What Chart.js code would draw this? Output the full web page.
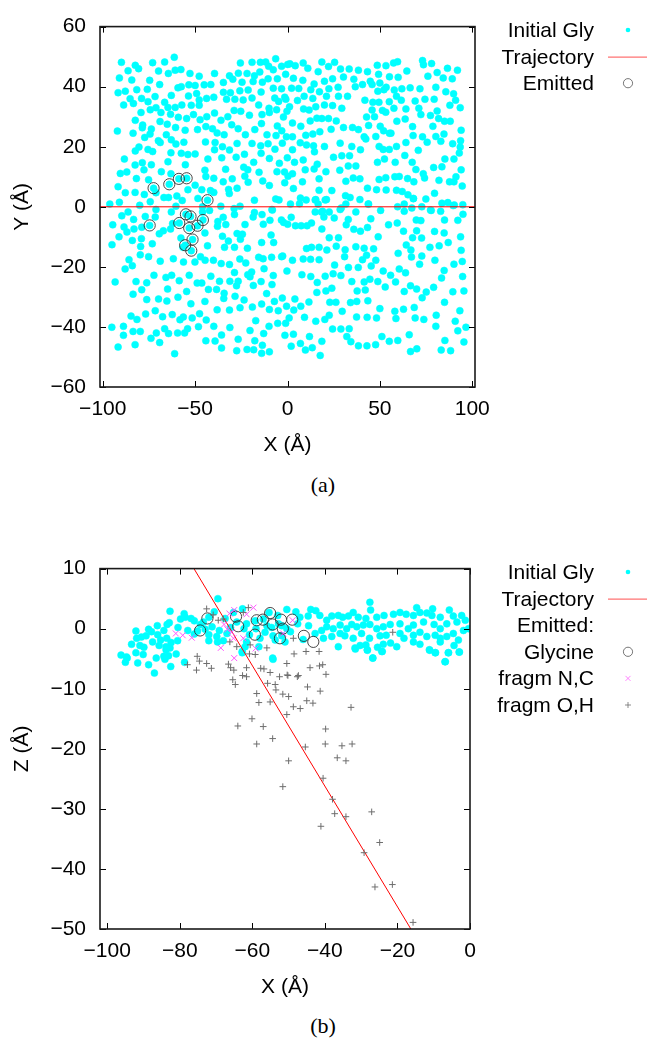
<!DOCTYPE html>
<html>
<head>
<meta charset="utf-8">
<script src="https://cdn.jsdelivr.net/npm/chart.js@4.4.1/dist/chart.umd.min.js"></script>
<style>
  body { margin: 0; background: #fff; width: 647px; height: 1042px; position: relative; overflow: hidden; }
  canvas { position: absolute; left: 0; }
  #chartA { top: 0; }
  #chartB { top: 542px; }
  .caption { position: absolute; left: 0; width: 646px; text-align: center; font: 22px 'Liberation Serif', 'DejaVu Serif', serif; line-height: 24px; color: #000; }
</style>
</head>
<body>
<canvas id="chartA" width="647" height="470"></canvas>
<canvas id="chartB" width="647" height="470"></canvas>
<div class="caption" style="top:473px">(a)</div>
<div class="caption" style="top:1014px">(b)</div>
<script>
const FONT = "'Liberation Sans', Arial, sans-serif";

// ---- panel (a): X/Y view ----
const xTicksA = [-100, -50, 0, 50, 100];
const yTicksA = [-60, -40, -20, 0, 20, 40, 60];
const trajectoryAX = [-101.5, 101.5];
const trajectoryAY = [0, 0];

const initialGlyA = [
  [-61.3,49.8],[-89.9,48.1],[-82.4,47.1],[-80.6,46.0],[-73.0,48.0],[-66.5,48.2],[-86.3,45.3],[-69.8,45.2],[-60.8,45.5],[-57.7,45.7],
  [-64.5,44.4],[-52.8,44.4],[-47.8,43.5],[-39.5,44.4],[-25.5,47.9],[-19.2,48.1],[-14.7,48.1],[-11.8,48.2],[-6.4,49.3],[-10.2,46.8],
  [0.1,47.4],[-7.7,45.6],[-3.2,46.8],[-15.0,44.9],[-21.9,44.4],[-26.6,44.5],[-31.4,43.6],[-17.9,43.6],
  [-91.0,42.9],[-84.3,42.2],[-74.6,42.1],[-10.5,42.6],[-5.5,42.6],[-1.0,44.1],[-69.2,40.7],[-53.4,40.6],[-50.0,40.4],[-45.1,40.6],
  [-41.5,40.7],[-34.7,41.4],[-29.6,42.5],[-24.6,41.5],[-18.6,41.7],[-13.6,41.5],[-91.7,38.0],[-87.8,38.5],[-81.6,39.0],[-75.9,39.1],
  [-59.3,39.6],[-57.5,40.0],[-53.6,36.9],[-49.2,37.7],[-25.8,38.6],[-21.3,38.9],[-14.3,38.2],[-7.7,39.5],[-3.2,39.3],
  [-88.7,33.9],[-85.2,36.0],[-83.4,34.4],[-79.0,36.1],[-75.5,35.0],[-71.7,36.7],[-66.5,34.8],[-64.7,33.1],[-62.9,37.1],[-60.8,33.1],
  [-57.2,33.9],[-52.1,33.8],[-47.8,35.6],[-47.8,33.8],[-43.8,36.1],[-39.9,36.5],[-34.7,38.1],[-30.9,38.0],[-33.0,35.8],[-28.5,35.8],
  [-24.0,35.6],[-19.2,36.2],[-15.6,33.9],[-10.0,32.8],[-6.9,36.2],[-4.8,35.1],[-1.5,36.5],
  [-71.2,33.0],[-79.3,31.4],[-74.3,32.3],[-68.5,31.4],[-63.3,30.8],[-59.1,29.8],[-54.6,29.4],[-50.9,30.7],[-47.3,29.0],[-43.7,30.0],
  [-39.5,31.2],[-36.0,28.8],[-32.3,30.0],[-28.9,32.1],[-25.3,31.8],[-20.6,30.5],[-13.8,30.7],[-9.8,31.4],[-5.9,32.3],[-0.3,31.8],
  [-82.4,28.8],[-78.4,27.2],[-78.6,26.3],[-73.7,25.9],[-83.6,24.5],[-92.1,25.2],[-69.0,28.4],[-65.1,27.5],[-60.6,26.4],[-55.4,25.5],
  [-48.7,25.7],[-44.2,26.7],[-40.6,26.0],[-38.1,24.6],[-34.3,24.0],[-30.2,27.3],[-26.7,26.0],[-22.8,24.0],[-17.7,25.7],[-14.1,27.7],
  [-11.1,24.0],[-6.2,23.7],[-0.6,23.3],[-5.5,26.9],
  [-77.3,23.1],[-74.4,24.2],[-69.9,22.0],[-65.6,24.0],[-68.9,21.4],[-62.9,22.3],[-60.4,20.9],[-56.1,21.5],[-80.4,19.9],[-82.4,18.6],
  [-75.5,19.1],[-73.0,18.4],[-88.3,15.9],[-82.5,13.9],[-78.6,14.7],[-73.7,14.0],[-64.7,15.0],[-63.1,18.0],[-57.5,17.8],[-53.9,17.4],
  [-50.0,17.6],[-55.3,14.0],[-44.4,21.6],[-39.2,21.4],[-39.5,19.0],[-35.2,20.0],[-31.4,18.9],[-27.3,21.1],[-19.2,21.1],[-14.5,20.3],
  [-10.5,21.0],[-6.8,19.2],[-2.8,21.2],[-43.1,15.9],[-35.6,16.3],[-27.8,16.5],[-23.3,17.5],[-18.3,14.8],[-14.3,17.8],[-9.8,16.1],
  [-4.4,14.5],[-0.1,16.3],
  [-90.5,11.1],[-87.0,11.6],[-81.8,9.4],[-77.7,12.3],[-75.2,9.0],[-68.3,11.7],[-63.1,11.0],[-91.7,6.7],[-87.8,4.7],[-82.5,4.8],
  [-77.5,4.1],[-71.2,4.7],[-66.9,3.1],[-64.4,3.1],[-59.9,3.6],[-57.0,2.1],[-53.9,5.7],[-50.0,7.2],[-48.5,2.8],[-46.4,5.7],
  [-44.7,12.2],[-44.2,10.1],[-39.9,9.5],[-41.7,5.4],[-39.9,4.8],[-34.8,8.3],[-33.5,12.5],[-31.9,5.8],[-31.5,4.4],[-29.9,9.3],
  [-27.3,6.2],[-23.7,13.2],[-23.1,10.2],[-21.5,12.3],[-21.3,8.2],[-17.9,2.2],[-15.4,11.5],[-13.4,8.6],[-9.8,7.1],[-5.7,11.7],
  [-6.4,2.6],[-4.6,2.3],[-1.5,8.0],[0.3,10.2],[-96.2,0.9],[-91.0,1.5],[-80.0,0.5],[-74.3,1.7],[-60.4,0.2],[-46.0,0.0],
  [-36.1,0.2],[-25.7,0.2],[-8.4,-0.9],
  [-72.5,6.2],[-64.0,7.5],[-58.8,9.3],[-54.6,9.5],[-43.3,2.2],[-74.6,-6.2],[-55.0,-2.5],[-52.5,-3.2],[-58.6,-5.4],[-53.2,-7.1],
  [-48.7,-6.3],[-45.8,-4.4],[-51.4,-10.9],[-55.4,-12.8],[-52.1,-14.6],
  [1.3,47.6],[4.2,47.0],[8.5,47.9],[11.0,46.1],[18.6,48.2],[22.2,46.7],[25.5,48.1],[16.6,45.0],[28.7,45.9],[33.4,45.9],
  [38.4,45.5],[43.3,45.0],[48.6,47.1],[53.3,47.0],[57.4,47.9],[59.6,48.3],[49.3,44.1],[64.6,45.2],[73.1,48.7],[73.6,47.3],
  [78.0,47.7],[81.0,44.7],[76.0,43.5],[86.6,46.1],[84.3,42.9],[89.2,42.6],[92.0,45.5],
  [3.2,42.8],[8.3,42.1],[14.4,40.9],[20.0,41.8],[24.4,42.6],[30.3,43.2],[35.9,42.5],[40.6,40.7],[44.8,41.8],[45.8,40.7],
  [50.0,41.2],[55.2,43.3],[59.9,43.1],[53.4,39.8],[80.3,39.8],
  [2.2,39.5],[6.1,39.4],[12.6,39.0],[17.3,38.3],[22.4,39.3],[27.4,39.8],[36.7,40.0],[48.9,38.5],[52.2,39.0],[57.8,38.9],
  [61.9,39.3],[66.4,39.6],[71.7,39.3],[85.7,38.3],[89.9,37.6],[-0.9,35.8],[5.4,35.4],[9.0,36.8],[13.7,36.1],[21.1,36.8],
  [27.6,36.8],[32.5,36.8],[41.9,35.5],[46.2,34.8],[49.5,34.8],[55.1,35.0],[59.0,36.8],[61.6,35.5],[69.1,35.2],[74.4,35.8],
  [79.4,35.8],[87.9,33.8],[1.1,33.3],[8.7,32.6],[11.7,32.2],[15.3,33.3],[20.0,33.9],[24.4,33.7],[29.4,32.8],[45.8,32.2],
  [51.4,32.1],[57.6,32.8],[64.1,32.6],[71.1,32.8],[81.0,31.9],[93.5,33.0],[91.0,35.5],
  [-2.2,29.9],[2.7,27.9],[7.2,26.8],[12.3,28.6],[15.9,29.5],[18.6,29.4],[22.2,29.4],[26.4,28.6],[30.3,26.4],[35.2,26.4],
  [38.4,25.7],[42.8,29.9],[43.9,27.1],[47.1,30.0],[50.2,26.8],[53.2,31.5],[55.2,24.5],[59.2,28.5],[63.7,29.2],[67.7,26.7],
  [72.2,30.7],[77.4,30.4],[81.8,29.4],[85.0,28.5],[88.1,28.5],[84.7,24.2],[78.7,26.8],[73.1,23.3],[68.0,23.7],[-3.1,25.3],
  [2.7,23.3],[9.9,23.8],[13.7,24.2],[17.5,25.0],[23.6,25.8],[41.5,23.3],[47.8,23.4],[52.0,25.3],[56.0,24.5],[94.0,25.5],
  [6.9,21.3],[10.3,20.6],[14.1,20.3],[20.0,20.1],[28.5,21.2],[34.8,20.1],[39.5,19.0],[42.4,22.6],[49.6,20.1],[51.8,19.1],
  [55.1,19.1],[59.0,20.1],[64.1,21.4],[70.8,18.8],[75.6,21.5],[80.3,23.4],[83.0,21.8],[89.4,21.0],[93.7,22.0],[93.5,19.9],
  [93.0,17.9],[2.7,19.0],[3.8,14.8],[8.5,15.6],[14.6,18.3],[16.1,14.2],[24.9,16.5],[29.4,17.0],[33.6,17.0],[37.0,13.6],
  [32.9,13.6],[48.7,14.8],[52.5,15.9],[58.3,14.8],[63.5,17.1],[67.5,14.8],[73.5,11.0],[79.1,13.1],[83.6,13.3],[85.2,15.9],
  [90.1,15.9],[94.0,12.3],
  [-1.6,11.6],[2.7,11.0],[9.6,12.3],[14.4,12.6],[20.8,11.7],[28.3,12.2],[3.2,6.1],[8.1,8.3],[17.1,9.3],[24.0,5.4],
  [17.1,5.5],[31.6,8.5],[35.6,9.6],[39.2,9.3],[43.3,6.2],[48.2,5.7],[49.6,9.1],[53.2,9.7],[58.1,10.0],[60.5,10.1],
  [65.0,9.4],[68.4,8.3],[69.5,12.4],[74.2,9.6],[82.0,8.8],[87.7,8.3],[90.1,8.3],[91.2,10.0],[94.6,6.9],[7.0,2.9],
  [10.1,2.3],[15.3,2.4],[21.1,2.4],[31.4,3.7],[33.9,3.1],[39.2,2.4],[53.4,5.6],[59.0,5.5],[62.1,5.1],[65.2,4.0],
  [68.1,2.7],[74.9,2.6],[79.6,4.5],[83.6,1.2],[86.8,1.4],[94.9,0.7],[89.7,0.4],[1.6,0.9],[16.6,0.9],[29.1,-0.4],
  [37.0,-1.7],[43.9,0.9],[59.6,0.0],[63.2,-1.5],[67.3,-0.4],[72.7,0.0],[77.8,-1.2],[82.9,-1.5],[19.0,-1.5],[22.6,-1.7],
  [-94.6,-6.0],[-89.7,-3.0],[-88.5,-6.7],[-86.3,-1.7],[-91.2,-10.0],[-86.9,-8.4],[-84.0,-11.2],[-83.1,-7.4],[-83.3,-4.2],[-78.9,-6.8],
  [-79.1,-10.6],[-79.5,-13.2],[-77.0,-3.2],[-73.2,-12.3],[-71.2,-0.9],[-71.6,-3.4],[-69.4,-9.0],[-67.2,-8.0],[-63.3,-7.4],[-62.2,-5.6],
  [-57.7,-10.4],[-56.6,-13.5],[-62.9,-1.7],[-46.0,-1.7],[-43.3,-13.0],[-44.7,-8.7],[-42.2,-1.2],[-37.7,-4.9],[-37.9,-6.5],[-34.8,-3.5],
  [-33.4,-5.9],[-28.9,-0.6],[-28.7,-2.6],[-27.3,-8.9],[-24.4,-9.1],[-23.0,-5.9],[-18.6,-3.4],[-17.9,-1.9],[-13.8,-2.6],[-13.1,-5.8],
  [-8.9,-9.4],[-9.5,-4.5],[-8.2,-1.1],[-3.3,-4.4],[-2.1,-5.2],[0.1,-5.8],[-35.2,-9.8],[-32.0,-11.4],[-34.1,-13.5],[-28.7,-13.5],
  [-25.5,-10.8],[-21.7,-13.8],[-14.0,-11.9],[-7.5,-11.9],[-2.6,-16.4],
  [-85.8,-17.6],[-84.0,-19.6],[-87.9,-20.7],[-79.7,-16.0],[-75.2,-16.6],[-68.9,-18.1],[-61.8,-17.3],[-56.3,-18.4],[-50.1,-18.4],[-47.1,-16.6],
  [-44.6,-17.8],[-40.1,-17.8],[-35.9,-18.9],[-31.4,-19.2],[-25.8,-17.4],[-22.6,-18.7],[-19.4,-21.7],[-15.6,-16.8],[-13.2,-17.3],[-8.6,-16.8],
  [-3.2,-16.6],[-0.3,-21.4],[-7.7,-22.9],[-12.7,-20.6],[-21.5,-22.6],[-28.7,-21.9],[-41.5,-23.1],[-53.2,-22.8],[-62.7,-22.8],[-65.8,-23.5],
  [-72.3,-22.8],[-82.0,-24.9],[-76.2,-25.3],[-58.6,-24.6],[-48.9,-25.4],[-46.4,-25.4],[-36.8,-24.8],[-31.2,-24.8],[-26.7,-24.8],[-20.3,-23.3],
  [-14.3,-24.9],[-8.4,-25.9],[-78.9,-27.6],[-83.6,-29.1],[-64.9,-27.4],[-54.6,-28.2],[-42.8,-27.5],[-38.4,-27.5],[-34.3,-28.8],[-27.6,-26.3],
  [-18.5,-26.2],[-11.3,-28.9],[-95.0,-12.6],[-93.3,-25.0],
  [-76.2,-30.9],[-69.8,-30.7],[-65.3,-31.4],[-59.3,-30.1],[-52.3,-32.3],[-44.7,-31.5],[-34.5,-30.5],[-28.4,-29.8],[-23.5,-31.0],[-19.0,-33.4],
  [-14.0,-32.4],[-7.1,-31.5],[-2.8,-30.4],[-0.5,-33.1],[-84.7,-36.4],[-81.5,-37.5],[-76.8,-35.7],[-71.6,-34.6],[-67.6,-36.6],[-62.4,-35.9],
  [-58.2,-37.6],[-56.4,-36.7],[-51.6,-37.0],[-47.6,-35.6],[-44.0,-37.7],[-38.1,-34.3],[-31.4,-34.4],[-25.7,-33.6],[-17.2,-37.9],[-9.8,-34.2],
  [-5.0,-34.6],[-1.0,-38.8],
  [-95.1,-40.1],[-88.8,-39.8],[-88.8,-42.8],[-91.7,-46.7],[-83.6,-41.5],[-79.7,-41.5],[-82.5,-45.9],[-73.9,-43.8],[-71.0,-42.0],[-69.2,-45.2],
  [-66.5,-40.6],[-64.4,-42.2],[-61.1,-48.9],[-59.5,-42.0],[-55.7,-42.0],[-54.1,-40.6],[-48.2,-39.9],[-44.2,-44.6],[-39.9,-39.8],[-39.2,-44.7],
  [-35.7,-47.0],[-35.7,-42.7],[-31.2,-40.2],[-27.5,-47.9],[-26.7,-44.1],[-20.3,-41.2],[-17.7,-44.6],[-21.9,-47.5],[-18.3,-47.6],[-14.0,-48.8],
  [-13.6,-46.1],[-12.9,-42.2],[-9.8,-48.3],[-10.0,-39.8],[-5.3,-38.8],[-1.4,-42.8],
  [6.5,1.0],[15.0,2.3],[20.4,2.3],[31.6,0.9],[43.7,0.9],[63.2,0.9],[68.2,2.8],[90.3,0.6],[2.0,-3.5],[4.3,-6.3],
  [7.4,-6.3],[10.6,-6.3],[13.0,-5.4],[15.0,-1.7],[18.4,-1.7],[19.7,-3.4],[18.6,-7.4],[25.3,-3.7],[28.5,-0.9],[32.9,-4.2],
  [31.8,-6.0],[35.9,-7.5],[39.5,-8.1],[43.3,-6.9],[45.1,-4.0],[50.4,-1.2],[49.1,-10.0],[54.7,-6.0],[59.4,-5.4],[62.8,-8.1],
  [64.3,-12.7],[67.7,-10.3],[69.9,-8.0],[72.6,-10.4],[69.7,-4.4],[72.2,-4.6],[77.4,-1.1],[79.6,-8.2],[84.8,-8.7],[85.0,-4.4],
  [92.2,-4.5],[93.7,-10.0],[22.6,-10.3],[27.6,-10.3],[10.3,-13.9],[13.0,-13.5],[17.1,-13.5],[21.3,-14.4],[26.4,-13.1],[31.2,-14.3],
  [37.0,-13.3],[41.5,-13.8],[46.6,-14.0],[59.9,-15.5],[66.8,-14.4],[77.1,-13.5],[82.1,-13.0],[87.0,-11.9],[95.0,-2.5],[94.0,-14.5],
  [2.7,-17.8],[8.5,-17.4],[12.5,-17.5],[17.1,-17.6],[25.5,-19.4],[30.9,-16.6],[33.0,-20.2],[38.3,-20.2],[40.6,-17.6],[42.8,-16.1],
  [45.3,-19.7],[47.8,-17.8],[51.8,-21.4],[55.8,-22.8],[60.5,-20.7],[63.9,-22.0],[67.1,-16.7],[71.5,-19.1],[72.7,-16.4],[79.8,-17.8],
  [84.8,-21.2],[90.1,-19.1],[94.6,-18.2],[7.8,-22.6],[12.6,-23.2],[16.1,-25.2],[20.4,-23.1],[24.7,-22.3],[24.0,-27.1],[28.9,-22.9],
  [34.8,-24.9],[37.7,-28.0],[42.1,-27.7],[41.5,-25.0],[44.6,-24.1],[48.9,-24.9],[52.9,-26.7],[58.5,-25.0],[63.2,-28.2],[66.6,-26.3],
  [69.9,-27.4],[72.9,-30.3],[75.1,-28.4],[79.1,-26.8],[83.4,-23.7],[89.5,-28.3],[94.8,-23.2],[95.5,-28.0],
  [4.0,-30.7],[11.6,-31.7],[15.9,-28.5],[20.8,-28.0],[22.9,-31.8],[26.2,-31.8],[34.1,-31.9],[37.5,-31.5],[43.5,-31.3],[50.0,-33.9],
  [58.1,-34.8],[62.8,-34.1],[68.6,-33.5],[80.5,-36.1],[85.0,-31.8],[93.3,-34.6],[90.8,-38.1],[0.9,-37.0],[3.4,-34.4],[7.2,-33.1],
  [9.2,-36.8],[15.3,-38.1],[20.2,-37.5],[22.6,-36.1],[29.6,-34.8],[37.4,-36.7],[43.1,-36.8],[48.2,-37.0],[58.7,-37.2],[69.1,-37.0],
  [73.8,-37.5],
  [3.2,-42.4],[2.0,-46.4],[7.0,-45.5],[9.7,-47.7],[11.9,-43.2],[13.4,-46.9],[17.7,-49.5],[18.6,-44.8],[24.4,-40.7],[28.9,-40.7],
  [33.4,-40.6],[32.1,-43.2],[34.3,-44.9],[38.4,-46.3],[43.0,-46.3],[47.7,-45.9],[51.1,-43.2],[55.1,-44.8],[59.7,-44.5],[65.9,-42.6],
  [66.6,-48.2],[70.0,-47.3],[80.3,-39.8],[85.2,-44.5],[83.2,-47.7],[88.3,-47.9],[92.2,-41.3],[96.6,-40.1],[95.5,-45.0]
];

const emittedA = [
  [-72.5,6.2],[-64.0,7.5],[-58.8,9.3],[-54.6,9.5],[-43.3,2.2],[-74.6,-6.2],[-55.0,-2.5],[-52.5,-3.2],
  [-58.6,-5.4],[-53.2,-7.1],[-48.7,-6.3],[-45.8,-4.4],[-51.4,-10.9],[-55.4,-12.8],[-52.1,-14.6]
];

// ---- panel (b): X/Z view ----
const xTicksB = [-100, -80, -60, -40, -20, 0];
const zTicksB = [-50, -40, -30, -20, -10, 0, 10];
const trajectoryBX = [-76.1, -16.3];
const trajectoryBZ = [10, -50];

const initialGlyB = [
  [-69.5,5.0],[-82.7,2.9],[-78.8,2.5],[-78.5,1.9],[-79.8,1.6],[-76.9,1.7],[-76.0,1.3],[-82.9,1.0],[-83.5,0.7],[-86.2,0.5],
  [-88.6,-0.1],[-87.8,-0.5],[-86.1,-1.0],[-84.4,-0.3],[-92.1,-0.4],[-91.9,-1.6],[-90.6,-1.4],[-89.3,-1.2],[-87.5,-2.2],[-85.3,-1.9],
  [-83.6,-1.6],[-82.4,-2.3],[-80.6,-2.0],[-91.0,-2.8],[-89.9,-3.1],[-85.7,-2.8],[-83.8,-3.0],[-82.7,-3.2],[-92.1,-4.0],[-90.1,-4.3],
  [-84.4,-4.6],[-96.2,-4.4],[-94.7,-4.7],[-95.0,-5.6],[-91.6,-5.7],[-88.6,-6.0],[-82.5,-6.3],[-87.0,-7.4],[-74.3,0.7],[-73.0,-0.1],
  [-75.1,-0.4],[-72.0,-1.0],[-72.0,-2.0],[-69.6,-2.2],[-67.0,-0.8],[-62.8,-3.8],[-62.0,-3.0],[-58.2,-3.0],[-54.4,-4.9],[-54.3,-1.2],
  [-51.9,-1.2],[-51.0,-2.2],[-54.7,0.2],[-51.9,0.5],[-50.5,3.2],[-55.4,2.7],[-57.0,1.6],[-59.2,1.3],[-59.0,0.0],[-61.6,0.8],
  [-62.7,3.3],[-65.2,2.7],[-67.5,1.7],[-72.0,1.9],[-73.5,1.1],[-71.1,0.3],[-69.1,-0.3],[-69.8,-1.3],[-64.3,1.1],[-62.3,0.0],
  [-60.8,-1.0],[-61.6,-2.2],[-57.9,-1.6],[-56.5,-0.6],[-52.8,0.8],[-50.5,0.0],[-53.7,-1.9],
  [-56.0,0.5],[-53.0,2.2],[-49.5,-0.5],[-47.5,0.8],[-46.0,-1.8],[-44.5,0.5],[-48.0,2.8],[-76.0,-0.9],[-70.5,2.8],[-66.0,0.2],
  [-68.0,-2.0],[-80.5,0.2],[-77.8,-0.3],[-81.0,-4.2],[-86.5,-4.9],[-93.3,-2.6],
  [-94.5,-4.9],[-84.1,-5.1],[-83.1,-4.5],[-83.8,-3.5],[-78.7,-5.6],[-62.8,-4.0],[-54.3,-5.1],[-31.6,-3.4],[-28.3,-3.6],[-26.8,-4.9],
  [-24.2,-3.8],[-11.1,-3.6],[-9.5,-4.0],[-6.8,-5.5],[-6.0,-4.0],[-3.0,-3.9],
  [-27.6,4.4],[-27.4,3.1],[-43.9,3.2],[-42.5,3.0],[-46.9,1.9],[-44.6,2.1],[-41.4,2.2],[-39.5,1.4],[-38.1,2.1],[-36.3,2.2],
  [-35.1,1.9],[-33.5,2.1],[-32.2,2.7],[-30.8,1.9],[-28.7,1.7],[-25.7,1.9],[-23.7,2.2],[-21.1,2.4],[-19.3,2.7],[-17.6,2.4],
  [-15.6,2.2],[-14.7,3.5],[-13.8,2.7],[-11.9,2.6],[-10.3,3.3],[-10.5,2.2],[-8.2,1.9],[-5.7,3.1],[-4.6,2.1],[-2.3,2.2],
  [-1.3,1.4],[-0.4,0.0],[-1.8,-0.3],[-3.6,1.1],[-6.4,0.8],[-8.2,0.0],[-9.9,0.7],[-12.8,1.1],[-15.6,0.6],[-17.0,0.0],
  [-19.3,0.8],[-22.0,0.7],[-23.9,0.3],[-25.7,0.0],[-27.6,0.7],[-29.4,0.6],[-31.2,0.3],[-32.6,0.7],[-34.0,0.0],[-35.8,0.6],
  [-37.7,0.0],[-39.5,0.3],[-40.9,-0.3],[-42.7,-0.8],[-40.4,-1.6],[-38.1,-1.3],[-35.8,-0.8],[-34.5,-1.2],[-32.2,-1.6],[-29.9,-0.8],
  [-27.7,-1.6],[-24.8,-1.2],[-23.1,-1.1],[-19.3,-0.8],[-18.2,-1.6],[-15.6,-1.1],[-13.8,-0.6],[-11.9,-1.3],[-9.6,-1.1],[-8.2,-1.6],
  [-6.4,-1.3],[-4.6,-0.8],[-3.2,-1.9],[-31.7,-3.2],[-30.3,-2.8],[-28.7,-2.7],[-28.3,-3.5],[-26.8,-4.9],[-25.5,-3.1],[-24.3,-3.8],
  [-23.9,-2.6],[-21.9,-2.4],[-20.2,-3.0],[-15.6,-2.2],[-13.8,-2.6],[-11.2,-3.5],[-9.6,-4.0],[-8.2,-2.2],[-6.9,-5.5],[-5.9,-4.0],
  [-4.4,-2.8],[-2.9,-3.9],[-36.3,-3.0]
];

const glycineB = [
  [-74.4,-0.3],[-72.4,1.7],[-64.5,2.0],[-63.9,0.4],[-59.3,-1.0],[-58.8,1.4],[-57.1,1.5],[-55.1,2.6],
  [-54.4,0.7],[-52.1,1.5],[-51.6,0.0],[-52.4,-1.6],[-49.0,1.5],[-45.8,-1.2],[-43.2,-2.2]
];

const fragNCB = [
  [-81.1,-0.8],[-79.2,-1.1],[-76.7,-1.5],[-67.8,0.7],[-66.9,-0.1],[-65.7,-0.6],[-65.2,-1.6],[-68.7,-3.2],
  [-65.0,-4.9],[-65.0,3.1],[-59.7,3.5],[-61.6,2.4],[-66.3,2.5],[-62.5,-1.6],[-48.9,1.4],[-51.5,-0.8],[-59.1,-3.3]
];

const fragOHB = [
  [-72.6,3.3],[-70.8,2.3],[-69.4,1.4],[-68.0,1.6],[-62.5,2.7],[-61.1,3.5],[-56.0,-3.2],[-64.3,-3.0],[-66.2,-2.2],[-60.6,-2.7],
  [-48.7,-1.6],[-21.3,-0.6],[-41.6,-3.8],[-47.3,-7.8],[-50.4,-7.7],
  [-77.9,-6.0],[-75.2,-4.6],[-74.6,-5.4],[-75.4,-6.9],[-72.6,-5.8],[-71.3,-6.6],[-66.6,-5.9],[-66.0,-6.5],[-65.1,-6.9],[-62.7,-7.8],
  [-61.6,-8.0],[-65.4,-8.5],[-64.7,-9.3],[-61.6,-6.5],[-60.8,-4.2],[-59.2,-4.3],[-57.7,-6.6],[-56.8,-6.7],[-55.8,-9.1],[-55.1,-7.3],
  [-53.7,-9.3],[-53.5,-10.2],[-52.5,-8.0],[-50.2,-7.8],[-50.5,-5.8],[-48.5,-4.2],[-47.6,-8.0],[-44.1,-6.5],[-45.2,-3.8],[-41.5,-6.2],
  [-40.6,-6.0],[-39.7,-7.6],[-44.8,-9.7],[-41.3,-10.4],[-58.8,-10.8],[-58.2,-12.3],[-55.1,-12.2],[-51.6,-10.9],[-50.0,-11.3],[-48.7,-13.0],
  [-46.8,-13.3],[-45.0,-12.0],[-43.3,-12.4],[-32.8,-13.1],[-50.5,-14.3],[-60.1,-15.0],[-64.0,-16.2],[-57.0,-16.3],[-54.4,-18.3],[-58.8,-19.2],
  [-39.8,-16.7],[-39.9,-19.2],[-45.4,-19.7],[-35.3,-19.5],[-32.5,-19.2],[-36.6,-21.5],[-34.2,-22.0],[-50.0,-22.0],[-40.5,-24.9],[-51.6,-26.3],
  [-37.9,-28.4],[-37.3,-30.8],[-34.2,-31.3],[-41.1,-32.9],[-27.1,-30.5],[-29.2,-37.3],[-24.9,-35.6],[-26.2,-43.0],[-21.4,-42.6],[-15.7,-48.9]
];

// ---- helpers ----
const toXY = arr => arr.map(p => ({x: p[0], y: p[1]}));
const zipXY = (xs, ys) => xs.map((x, i) => ({x: x, y: ys[i]}));
const fmt = v => v < 0 ? '\u2212' + Math.abs(v) : String(v);

function makeAxis(min, max, tickVals, title, horizontal) {
  return {
    type: 'linear',
    position: horizontal ? 'bottom' : 'left',
    min: min,
    max: max,
    grid: { display: false, drawTicks: false },
    border: { display: false },
    afterBuildTicks: s => { s.ticks = tickVals.map(v => ({ value: v })); },
    afterFit: s => { if (horizontal) s.height = 83; else s.width = 100; },
    ticks: {
      autoSkip: false,
      maxRotation: 0,
      padding: horizontal ? 10 : 14,
      color: '#000',
      font: { family: FONT, size: 21 },
      callback: v => fmt(v)
    },
    title: {
      display: true,
      text: title,
      color: '#000',
      font: { family: FONT, size: 21 },
      padding: horizontal ? { top: 0, bottom: 12 } : { top: 10, bottom: 0 }
    }
  };
}

// gnuplot-like frame with inward ticks on all four sides
const framePlugin = {
  id: 'frame',
  afterDatasetsDraw(chart) {
    const { ctx, chartArea: a, scales } = chart;
    ctx.save();
    ctx.strokeStyle = '#000';
    ctx.lineWidth = 1;
    ctx.beginPath();
    scales.x.ticks.forEach(t => {
      const p = Math.round(scales.x.getPixelForValue(t.value)) + 0.5;
      ctx.moveTo(p, a.bottom); ctx.lineTo(p, a.bottom - 6);
      ctx.moveTo(p, a.top); ctx.lineTo(p, a.top + 6);
    });
    scales.y.ticks.forEach(t => {
      const p = Math.round(scales.y.getPixelForValue(t.value)) + 0.5;
      ctx.moveTo(a.left, p); ctx.lineTo(a.left + 6, p);
      ctx.moveTo(a.right, p); ctx.lineTo(a.right - 6, p);
    });
    ctx.stroke();
    ctx.strokeStyle = '#1a1a1a';
    ctx.lineWidth = 1.6;
    ctx.strokeRect(a.left, a.top, a.right - a.left, a.bottom - a.top);
    ctx.restore();
  }
};

// key drawn to the right of the plot, text right-aligned like gnuplot
function drawKeySymbol(ctx, kind, x, y) {
  ctx.beginPath();
  if (kind === 'dot') {
    ctx.fillStyle = '#00ffff';
    ctx.arc(x, y, 2.3, 0, Math.PI * 2);
    ctx.fill();
  } else if (kind === 'line') {
    ctx.strokeStyle = '#ff5050';
    ctx.lineWidth = 1;
    ctx.moveTo(608, y + 0.5); ctx.lineTo(647, y + 0.5);
    ctx.stroke();
  } else if (kind === 'circle') {
    ctx.strokeStyle = '#555';
    ctx.lineWidth = 0.8;
    ctx.arc(x, y, 4.6, 0, Math.PI * 2);
    ctx.stroke();
  } else if (kind === 'x') {
    ctx.strokeStyle = '#ff66ff';
    ctx.lineWidth = 0.8;
    ctx.moveTo(x - 2.5, y - 2.5); ctx.lineTo(x + 2.5, y + 2.5);
    ctx.moveTo(x - 2.5, y + 2.5); ctx.lineTo(x + 2.5, y - 2.5);
    ctx.stroke();
  } else if (kind === 'plus') {
    ctx.strokeStyle = '#707070';
    ctx.lineWidth = 0.8;
    ctx.moveTo(x - 3, y); ctx.lineTo(x + 3, y);
    ctx.moveTo(x, y - 3); ctx.lineTo(x, y + 3);
    ctx.stroke();
  }
}

const keyPlugin = {
  id: 'gpKey',
  afterDraw(chart, args, opts) {
    const ctx = chart.ctx;
    ctx.save();
    ctx.font = '21px ' + FONT;
    ctx.textAlign = 'right';
    ctx.textBaseline = 'alphabetic';
    opts.items.forEach((it, i) => {
      const base = 37 + i * 26.6;
      ctx.fillStyle = '#000';
      ctx.fillText(it.text, 594, base);
      drawKeySymbol(ctx, it.kind, 628, base - 7);
    });
    ctx.restore();
  }
};

function baseOptions(padRight, xAxis, yAxis, keyItems) {
  return {
    responsive: false,
    animation: false,
    devicePixelRatio: 1,
    layout: { padding: { top: 16, right: padRight, bottom: 0, left: 0 } },
    scales: { x: xAxis, y: yAxis },
    plugins: {
      legend: { display: false },
      tooltip: { enabled: false },
      gpKey: { items: keyItems }
    },
    events: []
  };
}

const cyanStyle = { pointStyle: 'circle', pointRadius: 3.5, backgroundColor: '#00ffff', borderColor: '#00ffff', pointBorderWidth: 0.5, showLine: false };
const trajStyle = { showLine: true, pointRadius: 0, borderColor: '#ff0000', borderWidth: 1, fill: false };
const circleStyle = { pointStyle: 'circle', pointRadius: 5.6, backgroundColor: 'rgba(0,0,0,0)', borderColor: '#333333', pointBorderWidth: 0.9, showLine: false };

new Chart(document.getElementById('chartA'), {
  type: 'scatter',
  data: {
    datasets: [
      Object.assign({ label: 'Initial Gly', data: toXY(initialGlyA), order: 3 }, cyanStyle),
      Object.assign({ label: 'Trajectory', data: zipXY(trajectoryAX, trajectoryAY), order: 2 }, trajStyle),
      Object.assign({ label: 'Emitted', data: toXY(emittedA), order: 1 }, circleStyle)
    ]
  },
  options: baseOptions(172,
    makeAxis(-101.5, 101.5, xTicksA, 'X (Å)', true),
    makeAxis(-60, 60, yTicksA, 'Y (Å)', false),
    [
      { text: 'Initial Gly', kind: 'dot' },
      { text: 'Trajectory', kind: 'line' },
      { text: 'Emitted', kind: 'circle' }
    ]),
  plugins: [framePlugin, keyPlugin]
});

new Chart(document.getElementById('chartB'), {
  type: 'scatter',
  data: {
    datasets: [
      Object.assign({ label: 'Initial Gly', data: toXY(initialGlyB), order: 5 }, cyanStyle),
      Object.assign({ label: 'Trajectory', data: zipXY(trajectoryBX, trajectoryBZ), order: 4 }, trajStyle),
      Object.assign({ label: 'Glycine', data: toXY(glycineB), order: 3 }, circleStyle),
      { label: 'fragm N,C', data: toXY(fragNCB), order: 2, pointStyle: 'crossRot', pointRadius: 4.2, borderColor: '#ff55ff', pointBorderWidth: 1, showLine: false },
      { label: 'fragm O,H', data: toXY(fragOHB), order: 1, pointStyle: 'cross', pointRadius: 3.3, borderColor: '#6e6e6e', pointBorderWidth: 1, showLine: false }
    ]
  },
  options: baseOptions(177,
    makeAxis(-102, 0, xTicksB, 'X (Å)', true),
    makeAxis(-50, 10, zTicksB, 'Z (Å)', false),
    [
      { text: 'Initial Gly', kind: 'dot' },
      { text: 'Trajectory', kind: 'line' },
      { text: 'Emitted:', kind: 'none' },
      { text: 'Glycine', kind: 'circle' },
      { text: 'fragm N,C', kind: 'x' },
      { text: 'fragm O,H', kind: 'plus' }
    ]),
  plugins: [framePlugin, keyPlugin]
});
</script>
</body>
</html>
